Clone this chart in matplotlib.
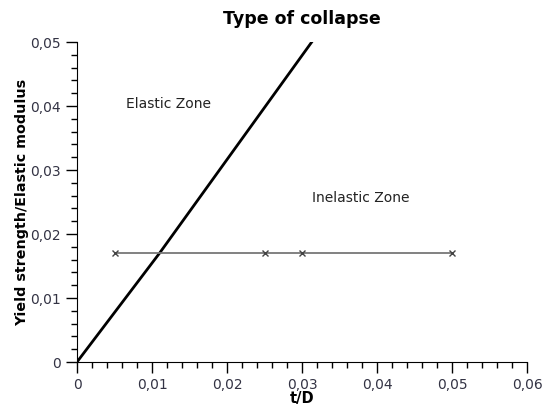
import matplotlib
matplotlib.use('Agg')
import matplotlib.pyplot as plt
from matplotlib.ticker import MultipleLocator, FuncFormatter

# boundary between elastic and inelastic collapse
limitX = [0.0, 0.011, 0.0313]
limitY = [0.0, 0.017, 0.05]

# horizontal reference line
refX = [0.005, 0.025, 0.03, 0.05]
refY = [0.017, 0.017, 0.017, 0.017]

fig = plt.figure(figsize=(5.42, 4.05), dpi=100)
ax = fig.add_axes([77/542, 43/405, 450/542, 320/405])

ax.plot(limitX, limitY, color='black', linewidth=2)
ax.plot(refX, refY, color='#777777', linewidth=1.3, marker='x',
        markersize=5, markeredgecolor='#444444', markeredgewidth=1)

ax.text(0.0065, 0.0403, 'Elastic Zone', fontsize=10, va='center', color='#222222')
ax.text(0.0313, 0.0256, 'Inelastic Zone', fontsize=10, va='center', color='#222222')

ax.set_xlim(0, 0.06)
ax.set_ylim(0, 0.05)
ax.xaxis.set_major_locator(MultipleLocator(0.01))
ax.xaxis.set_minor_locator(MultipleLocator(0.002))
ax.yaxis.set_major_locator(MultipleLocator(0.01))
ax.yaxis.set_minor_locator(MultipleLocator(0.002))

def commaFmt(v, pos):
    if abs(v) < 1e-9:
        return '0'
    return ('%.2f' % v).replace('.', ',')

ax.xaxis.set_major_formatter(FuncFormatter(commaFmt))
ax.yaxis.set_major_formatter(FuncFormatter(commaFmt))

for s in ['top', 'right']:
    ax.spines[s].set_visible(False)
ax.tick_params(which='major', length=8, width=1, labelsize=10, labelcolor='#333344')
ax.tick_params(which='minor', length=4, width=1)

ax.set_title('Type of collapse', fontsize=12.5, fontweight='bold', pad=13)
ax.set_xlabel('t/D', fontsize=10.5, fontweight='bold', labelpad=-0.5)
ax.set_ylabel('Yield strength/Elastic modulus', fontsize=10.3, fontweight='bold', labelpad=1)

fig.savefig('out.png', dpi=100)
